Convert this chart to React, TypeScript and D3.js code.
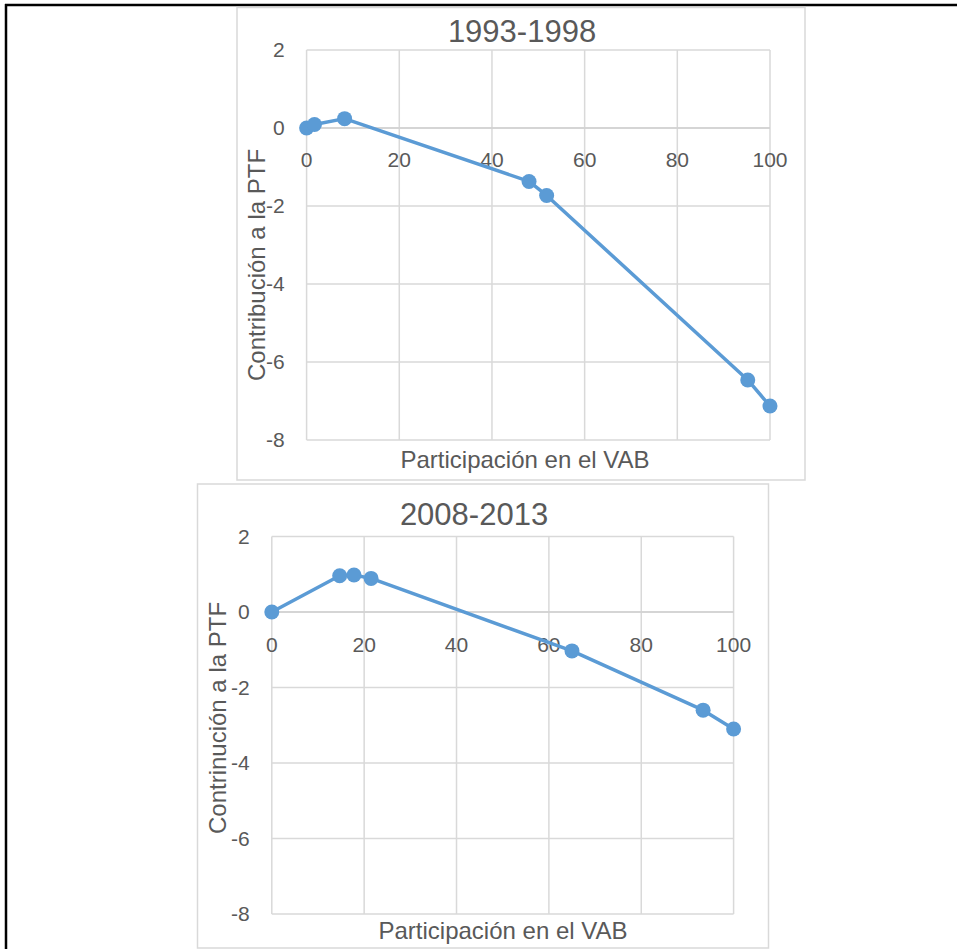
import React from "react";
import * as d3 from "d3";

const xTicks = [0, 20, 40, 60, 80, 100];
const yTicks = [2, 0, -2, -4, -6, -8];

const title1 = "1993-1998";
const x1 = [0, 1.7, 8.2, 48.0, 51.8, 95.2, 100];
const y1 = [0, 0.09, 0.24, -1.37, -1.73, -6.46, -7.13];
const yTitle1 = "Contribución a la PTF";

const title2 = "2008-2013";
const x2 = [0, 14.7, 17.8, 21.5, 65.0, 93.4, 100];
const y2 = [0, 0.96, 0.98, 0.89, -1.03, -2.6, -3.1];
const yTitle2 = "Contrinución a la PTF";

const xTitle = "Participación en el VAB";

const FONT = "'Liberation Sans', Arial, sans-serif";
const TXT = "#595959";
const GRID = "#d9d9d9";
const BLUE = "#5b9bd5";

type PanelProps = {
  box: [number, number, number, number];
  px: [number, number];
  py: [number, number];
  xs: number[];
  ys: number[];
  title: string;
  titlePos: [number, number];
  yTitle: string;
  yTitlePos: [number, number];
  xTitlePos: [number, number];
  xLabelDy: number;
};

function Panel(p: PanelProps) {
  const x = d3.scaleLinear().domain([0, 100]).range(p.px);
  const y = d3.scaleLinear().domain([2, -8]).range(p.py);
  const pts = p.xs.map((v, i) => [v, p.ys[i]] as [number, number]);
  const line = d3
    .line<[number, number]>()
    .x((d) => x(d[0]))
    .y((d) => y(d[1]));
  const [bx, by, bw, bh] = p.box;
  return (
    <g>
      <rect x={bx} y={by} width={bw} height={bh} fill="#fff" stroke={GRID} strokeWidth={1.5} />
      {yTicks.map((t) => (
        <line key={"h" + t} x1={p.px[0]} x2={p.px[1]} y1={y(t)} y2={y(t)} stroke={GRID} strokeWidth={1.5} />
      ))}
      {xTicks.map((t) => (
        <line key={"v" + t} x1={x(t)} x2={x(t)} y1={p.py[0]} y2={p.py[1]} stroke={GRID} strokeWidth={1.5} />
      ))}
      <line x1={p.px[0]} x2={p.px[1]} y1={y(0)} y2={y(0)} stroke="#d0d0d0" strokeWidth={1.5} />
      {yTicks.map((t) => (
        <text key={"yl" + t} x={p.px[0] - 22} y={y(t)} dy="0.35em" textAnchor="end" fontSize={21} fill={TXT} fontFamily={FONT}>
          {t}
        </text>
      ))}
      {xTicks.map((t) => (
        <text key={"xl" + t} x={x(t)} y={y(0) + p.xLabelDy} textAnchor="middle" fontSize={21} fill={TXT} fontFamily={FONT}>
          {t}
        </text>
      ))}
      <path d={line(pts) || ""} fill="none" stroke={BLUE} strokeWidth={3.5} strokeLinejoin="round" />
      {pts.map((d, i) => (
        <circle key={"c" + i} cx={x(d[0])} cy={y(d[1])} r={7.5} fill={BLUE} />
      ))}
      <text x={p.titlePos[0]} y={p.titlePos[1]} textAnchor="middle" fontSize={31} fill={TXT} fontFamily={FONT}>
        {p.title}
      </text>
      <text
        transform={`translate(${p.yTitlePos[0]},${p.yTitlePos[1]}) rotate(-90)`}
        textAnchor="middle"
        fontSize={24}
        fill={TXT}
        fontFamily={FONT}
      >
        {p.yTitle}
      </text>
      <text x={p.xTitlePos[0]} y={p.xTitlePos[1]} textAnchor="middle" fontSize={24} fill={TXT} fontFamily={FONT}>
        {xTitle}
      </text>
    </g>
  );
}

export default function App() {
  return (
    <svg width={957} height={949} style={{ position: "absolute", left: 0, top: 0, background: "#fff" }}>
      <rect x={0} y={0} width={957} height={949} fill="#fff" />
      <line x1={5} x2={957} y1={5} y2={5} stroke="#000" strokeWidth={2.5} />
      <line x1={6} x2={6} y1={4} y2={949} stroke="#000" strokeWidth={2.5} />
      <Panel
        box={[237, 7.5, 568, 472.5]}
        px={[306.6, 770]}
        py={[50, 440]}
        xs={x1}
        ys={y1}
        title={title1}
        titlePos={[522, 42]}
        yTitle={yTitle1}
        yTitlePos={[265, 265]}
        xTitlePos={[525, 468]}
        xLabelDy={39}
      />
      <Panel
        box={[197.5, 484, 571, 464]}
        px={[271.8, 733.6]}
        py={[536.5, 914]}
        xs={x2}
        ys={y2}
        title={title2}
        titlePos={[474, 525]}
        yTitle={yTitle2}
        yTitlePos={[226, 718]}
        xTitlePos={[503, 939]}
        xLabelDy={40}
      />
    </svg>
  );
}
